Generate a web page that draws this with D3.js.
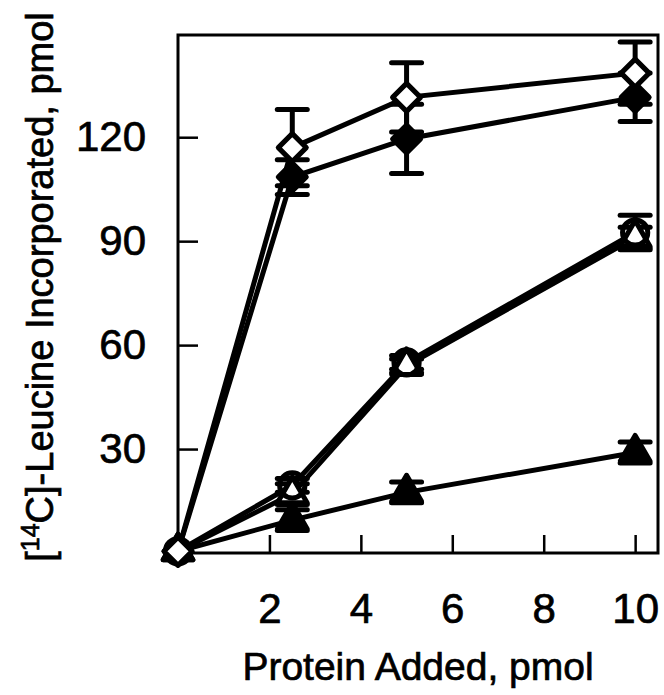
<!DOCTYPE html>
<html>
<head>
<meta charset="utf-8">
<script src="https://cdn.jsdelivr.net/npm/d3@7"></script>
<style>
  body { margin: 0; background: #fff; }
  text { font-family: Arial, "Liberation Sans", sans-serif; fill: #000; stroke: #000; stroke-width: 0.7px; }
</style>
</head>
<body>
<svg id="chart" width="664" height="695"></svg>
<script>
// data
var protein = [0, 2.5, 5, 10];
var xTicks = [2, 4, 6, 8, 10];
var yTicks = [30, 60, 90, 120];

var openDiamond = [0.5, 117, 131.5, 138.5];
var openDiamondErr = [0, 11, 10, 9];
var fillDiamond = [0.5, 108.5, 119.5, 131.5];
var fillDiamondErr = [0, 5, 10, 7];
var openCircle = [0.5, 19.5, 55, 92.5];
var openCircleErr = [0, 2, 2, 5];
var openTriangle = [0.5, 17, 54, 91];
var openTriangleErr = [0, 3, 2, 3];
var fillTriangle = [0.5, 9.5, 17.5, 29];
var fillTriangleErr = [0, 3, 3, 3];

var series = [
  {vals: fillTriangle, err: fillTriangleErr, shape: "triangle", fill: "#000"},
  {vals: openTriangle, err: openTriangleErr, shape: "triangle", fill: "#fff"},
  {vals: openCircle, err: openCircleErr, shape: "circle", fill: "none"},
  {vals: fillDiamond, err: fillDiamondErr, shape: "diamond", fill: "#000"},
  {vals: openDiamond, err: openDiamondErr, shape: "diamond", fill: "#fff"}
];

var svg = d3.select("#chart"),
    margin = {top: 35, right: 6, bottom: 142, left: 178},
    width = 664 - margin.left - margin.right,
    height = 695 - margin.top - margin.bottom;

var g = svg.append("g")
    .attr("transform", "translate(" + margin.left + "," + margin.top + ")");

var x = d3.scaleLinear().domain([0, 10.5]).range([0, width]);
var y = d3.scaleLinear().domain([0, 149.5]).range([height, 0]);

// frame
g.append("rect")
    .attr("width", width)
    .attr("height", height)
    .attr("fill", "none")
    .attr("stroke", "#000")
    .attr("stroke-width", 3);

// inward ticks
var xAxis = d3.axisBottom(x).tickValues(xTicks).tickSizeInner(-18).tickSizeOuter(0).tickPadding(40);
var yAxis = d3.axisLeft(y).tickValues(yTicks).tickSizeInner(-20).tickSizeOuter(0).tickPadding(32);

var gx = g.append("g").attr("transform", "translate(0," + height + ")").call(xAxis);
var gy = g.append("g").call(yAxis);
[gx, gy].forEach(function(a) {
  a.select(".domain").remove();
  a.selectAll(".tick line").attr("stroke", "#000").attr("stroke-width", 2.5);
  a.selectAll(".tick text").attr("font-size", 42).attr("fill", "#000")
      .style("font-family", "Arial, 'Liberation Sans', sans-serif");
});

// axis titles
svg.append("text")
    .attr("x", margin.left + width / 2)
    .attr("y", 680)
    .attr("text-anchor", "middle")
    .attr("font-size", 39)
    .text("Protein Added, pmol");

var yl = svg.append("text")
    .attr("transform", "translate(53,287) rotate(-90)")
    .attr("text-anchor", "middle")
    .attr("font-size", 38);
yl.append("tspan").text("[");
yl.append("tspan").attr("font-size", 25).attr("dy", -14).text("14");
yl.append("tspan").attr("dy", 14).text("C]-Leucine Incorporated, pmol");

// lines
var line = d3.line()
    .x(function(d, i) { return x(protein[i]); })
    .y(function(d) { return y(d); });

series.forEach(function(s) {
  g.append("path")
      .datum(s.vals)
      .attr("d", line)
      .attr("fill", "none")
      .attr("stroke", "#000")
      .attr("stroke-width", 5);
});

// error bars
series.forEach(function(s) {
  s.vals.forEach(function(v, i) {
    if (!s.err[i]) return;
    var cx = x(protein[i]), cap = 15;
    var eb = g.append("g").attr("stroke", "#000").attr("stroke-width", 5);
    eb.append("line").attr("x1", cx).attr("x2", cx)
        .attr("y1", y(v - s.err[i])).attr("y2", y(v + s.err[i]));
    [v - s.err[i], v + s.err[i]].forEach(function(e) {
      eb.append("line").attr("x1", cx - cap).attr("x2", cx + cap)
          .attr("y1", y(e)).attr("y2", y(e)).attr("stroke-linecap", "round");
    });
  });
});

// markers
function markerPath(shape) {
  if (shape === "diamond") {
    var r = 14;
    return "M0," + (-r) + "L" + r + ",0L0," + r + "L" + (-r) + ",0Z";
  }
  if (shape === "triangle") return d3.symbol().type(d3.symbolTriangle).size(380)();
  return d3.symbol().type(d3.symbolCircle).size(500)();
}

series.forEach(function(s) {
  g.selectAll(null)
      .data(s.vals)
      .enter().append("path")
      .attr("d", markerPath(s.shape))
      .attr("transform", function(d, i) { return "translate(" + x(protein[i]) + "," + y(d) + ")"; })
      .attr("fill", s.fill)
      .attr("stroke", "#000")
      .attr("stroke-width", 5)
      .attr("stroke-linejoin", "round");
});
</script>
</body>
</html>
